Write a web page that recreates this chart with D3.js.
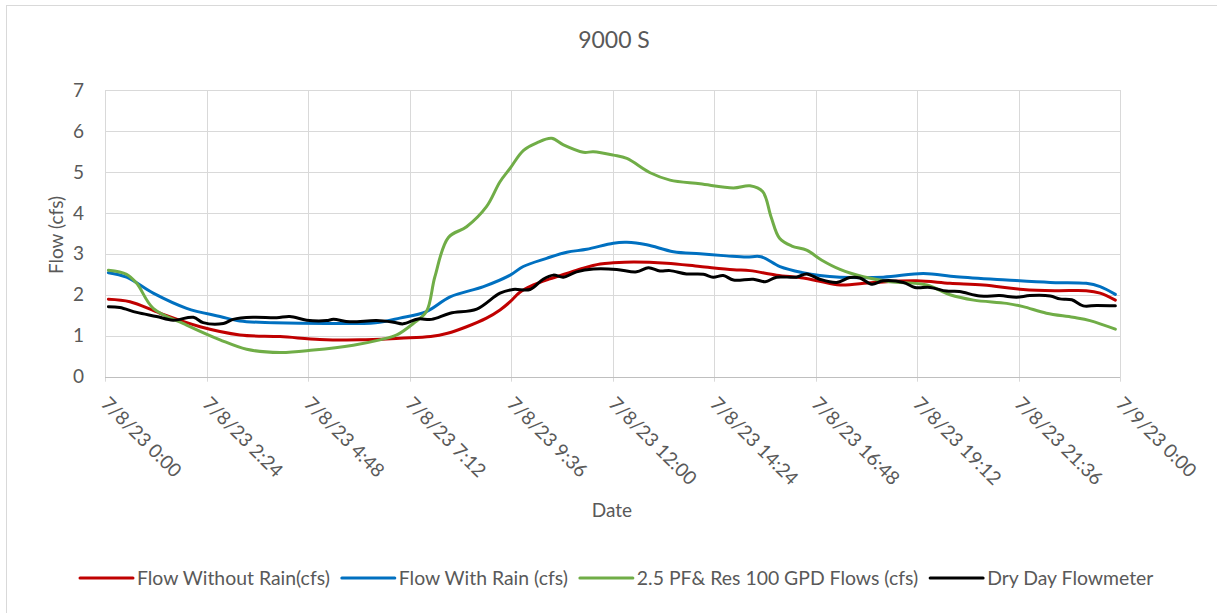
<!DOCTYPE html>
<html>
<head>
<meta charset="utf-8">
<script src="https://cdn.jsdelivr.net/npm/d3@7/dist/d3.min.js"></script>
<style>
  html, body { margin: 0; padding: 0; background: #ffffff; }
  svg { display: block; font-family: Lato, "Open Sans", sans-serif; }
</style>
</head>
<body>
<svg id="chart" width="1217" height="613"></svg>
<script>
// Flow at 9000 S over one day (hours after 7/8/23 0:00, flow in cfs)
const tickHours = [0, 2.4, 4.8, 7.2, 9.6, 12, 14.4, 16.8, 19.2, 21.6, 24];
const tickLabels = ["7/8/23 0:00", "7/8/23 2:24", "7/8/23 4:48", "7/8/23 7:12", "7/8/23 9:36",
  "7/8/23 12:00", "7/8/23 14:24", "7/8/23 16:48", "7/8/23 19:12", "7/8/23 21:36", "7/9/23 0:00"];
const flowTicks = [0, 1, 2, 3, 4, 5, 6, 7];

const seriesNames = ["Flow Without Rain(cfs)", "Flow With Rain (cfs)", "2.5 PF& Res 100 GPD Flows (cfs)", "Dry Day Flowmeter"];

const noRainHours = [0.08, 0.59, 1.3, 2.25, 3.19, 4.14, 5.08, 6.03, 6.97, 7.7, 8.1, 8.55, 9.02, 9.34, 9.58, 9.81, 10.13, 10.52, 10.92, 11.31, 11.71, 12.02, 12.5, 13.28, 14.07, 14.86, 15.25, 15.88, 16.51, 16.9, 17.38, 18.17, 19.19, 19.98, 20.77, 21.71, 22.5, 23.2, 23.53, 23.89];
const noRainFlow = [1.89, 1.83, 1.55, 1.22, 1.02, 0.98, 0.91, 0.90, 0.94, 0.98, 1.06, 1.22, 1.43, 1.63, 1.83, 2.06, 2.24, 2.39, 2.52, 2.65, 2.75, 2.78, 2.80, 2.77, 2.69, 2.61, 2.59, 2.48, 2.41, 2.33, 2.24, 2.30, 2.34, 2.28, 2.24, 2.13, 2.10, 2.10, 2.04, 1.87];

const rainHours = [0.08, 0.51, 1.14, 1.93, 2.72, 3.19, 4.0, 5.24, 6.4, 6.97, 7.6, 8.16, 8.95, 9.58, 9.89, 10.44, 10.92, 11.39, 12.02, 12.34, 12.81, 13.44, 14.07, 14.7, 15.17, 15.51, 15.96, 16.5, 16.9, 17.38, 18.4, 19.35, 20.13, 21.32, 22.35, 23.2, 23.53, 23.89];
const rainFlow = [2.54, 2.43, 2.04, 1.67, 1.47, 1.36, 1.32, 1.30, 1.32, 1.43, 1.59, 1.95, 2.20, 2.48, 2.69, 2.89, 3.04, 3.11, 3.26, 3.28, 3.22, 3.05, 3.00, 2.95, 2.92, 2.93, 2.69, 2.54, 2.47, 2.43, 2.43, 2.52, 2.44, 2.36, 2.30, 2.28, 2.20, 2.01];

const pfHours = [0.08, 0.51, 0.75, 1.14, 1.93, 2.72, 3.35, 4.14, 4.93, 5.87, 6.5, 6.9, 7.29, 7.6, 7.8, 8.12, 8.55, 9.02, 9.34, 9.58, 9.89, 10.21, 10.56, 10.84, 11.31, 11.55, 12.02, 12.34, 12.89, 13.36, 14.07, 14.86, 15.25, 15.55, 15.75, 15.95, 16.24, 16.59, 16.94, 17.38, 17.93, 18.56, 19.43, 19.98, 20.54, 21.32, 21.71, 22.26, 22.89, 23.29, 23.89];
const pfFlow = [2.60, 2.50, 2.28, 1.67, 1.26, 0.90, 0.67, 0.59, 0.65, 0.77, 0.90, 1.02, 1.30, 1.59, 2.44, 3.40, 3.66, 4.15, 4.76, 5.09, 5.52, 5.71, 5.82, 5.66, 5.48, 5.49, 5.41, 5.33, 4.98, 4.80, 4.71, 4.61, 4.66, 4.52, 3.90, 3.38, 3.19, 3.09, 2.85, 2.62, 2.44, 2.32, 2.24, 2.00, 1.87, 1.79, 1.71, 1.55, 1.45, 1.37, 1.16];

const dryHours = [0.08, 0.35, 0.75, 1.22, 1.61, 2.09, 2.32, 2.8, 3.03, 3.5, 4.06, 4.37, 4.77, 5.24, 5.4, 5.79, 6.42, 6.82, 7.05, 7.4, 7.72, 8.16, 8.79, 9.34, 9.65, 10.05, 10.36, 10.6, 10.84, 11.15, 11.55, 12.1, 12.57, 12.85, 13.12, 13.36, 13.75, 14.15, 14.38, 14.62, 14.86, 15.33, 15.61, 15.88, 16.35, 16.59, 16.9, 17.3, 17.61, 17.85, 18.13, 18.4, 18.88, 19.15, 19.51, 19.9, 20.2, 20.69, 21.16, 21.55, 21.87, 22.35, 22.58, 22.86, 23.13, 23.45, 23.89];
const dryFlow = [1.71, 1.69, 1.57, 1.47, 1.38, 1.45, 1.32, 1.30, 1.40, 1.45, 1.44, 1.47, 1.38, 1.37, 1.40, 1.34, 1.37, 1.33, 1.29, 1.41, 1.40, 1.55, 1.65, 2.04, 2.13, 2.13, 2.38, 2.48, 2.43, 2.56, 2.63, 2.62, 2.56, 2.66, 2.58, 2.59, 2.51, 2.50, 2.43, 2.47, 2.36, 2.38, 2.32, 2.43, 2.43, 2.51, 2.38, 2.30, 2.42, 2.41, 2.26, 2.34, 2.30, 2.18, 2.18, 2.09, 2.08, 1.97, 1.98, 1.94, 1.98, 1.97, 1.90, 1.88, 1.73, 1.74, 1.73];

const seriesColors = ["#c00000", "#0070c0", "#70ad47", "#000000"];

const series = [
  { name: seriesNames[0], color: seriesColors[0], pts: d3.zip(noRainHours, noRainFlow) },
  { name: seriesNames[1], color: seriesColors[1], pts: d3.zip(rainHours, rainFlow) },
  { name: seriesNames[2], color: seriesColors[2], pts: d3.zip(pfHours, pfFlow) },
  { name: seriesNames[3], color: seriesColors[3], pts: d3.zip(dryHours, dryFlow) }
];

const svg = d3.select("#chart");
const W = 1217, H = 613;
const plot = { left: 105, right: 1120, top: 90, bottom: 376.7 };
const textColor = "#595959";
const gridColor = "#d9d9d9";

// chart frame
svg.append("rect")
  .attr("x", 6.5).attr("y", 5.5).attr("width", W + 10).attr("height", H + 10)
  .attr("fill", "#ffffff").attr("stroke", gridColor).attr("stroke-width", 1);

const x = d3.scaleLinear().domain([0, 24]).range([plot.left, plot.right]);
const y = d3.scaleLinear().domain([0, 7]).range([plot.bottom, plot.top]);

// horizontal gridlines
svg.append("g")
  .selectAll("line").data(flowTicks.filter(v => v > 0)).join("line")
  .attr("x1", plot.left).attr("x2", plot.right)
  .attr("y1", d => Math.round(y(d)) + 0.5).attr("y2", d => Math.round(y(d)) + 0.5)
  .attr("stroke", gridColor).attr("stroke-width", 1);

// vertical gridlines with tick marks below the axis
svg.append("g")
  .selectAll("line").data(tickHours).join("line")
  .attr("x1", d => Math.round(x(d)) + 0.5).attr("x2", d => Math.round(x(d)) + 0.5)
  .attr("y1", plot.top).attr("y2", plot.bottom + 5)
  .attr("stroke", gridColor).attr("stroke-width", 1);

// x axis line
svg.append("line")
  .attr("x1", plot.left).attr("x2", plot.right)
  .attr("y1", Math.round(y(0)) + 0.5).attr("y2", Math.round(y(0)) + 0.5)
  .attr("stroke", "#bfbfbf").attr("stroke-width", 1);

// y tick labels
svg.append("g")
  .selectAll("text").data(flowTicks).join("text")
  .attr("x", 84).attr("y", d => y(d))
  .attr("dy", "0.35em")
  .attr("text-anchor", "end")
  .attr("fill", textColor).attr("font-size", 19)
  .text(d => d);

// x tick labels, rotated 45 degrees
svg.append("g")
  .selectAll("text").data(tickHours).join("text")
  .attr("transform", d => `translate(${x(d) - 5},${405}) rotate(45)`)
  .attr("text-anchor", "start")
  .attr("fill", textColor).attr("font-size", 19)
  .text((d, i) => tickLabels[i]);

// series lines
const line = d3.line()
  .x(d => x(d[0]))
  .y(d => y(d[1]))
  .curve(d3.curveCatmullRom.alpha(0.5));

svg.append("g")
  .selectAll("path").data(series).join("path")
  .attr("d", d => line(d.pts))
  .attr("fill", "none")
  .attr("stroke", d => d.color)
  .attr("stroke-width", 3)
  .attr("stroke-linejoin", "round")
  .attr("stroke-linecap", "round");

// title and axis titles
svg.append("text")
  .attr("x", 614).attr("y", 48)
  .attr("text-anchor", "middle")
  .attr("fill", textColor).attr("font-size", 23)
  .text("9000 S");

svg.append("text")
  .attr("transform", "translate(63,235) rotate(-90)")
  .attr("text-anchor", "middle")
  .attr("fill", textColor).attr("font-size", 19)
  .text("Flow (cfs)");

svg.append("text")
  .attr("x", 612).attr("y", 517)
  .attr("text-anchor", "middle")
  .attr("fill", textColor).attr("font-size", 19)
  .text("Date");

// legend
const legend = svg.append("g").attr("transform", "translate(80,578)");
let lx = 0;
series.forEach(s => {
  legend.append("line")
    .attr("x1", lx).attr("x2", lx + 53).attr("y1", 0).attr("y2", 0)
    .attr("stroke", s.color).attr("stroke-width", 3).attr("stroke-linecap", "round");
  const t = legend.append("text")
    .attr("x", lx + 57).attr("y", 0).attr("dy", "0.35em")
    .attr("fill", textColor).attr("font-size", 19.4)
    .text(s.name);
  lx += 57 + t.node().getComputedTextLength() + 12;
});
</script>
</body>
</html>
